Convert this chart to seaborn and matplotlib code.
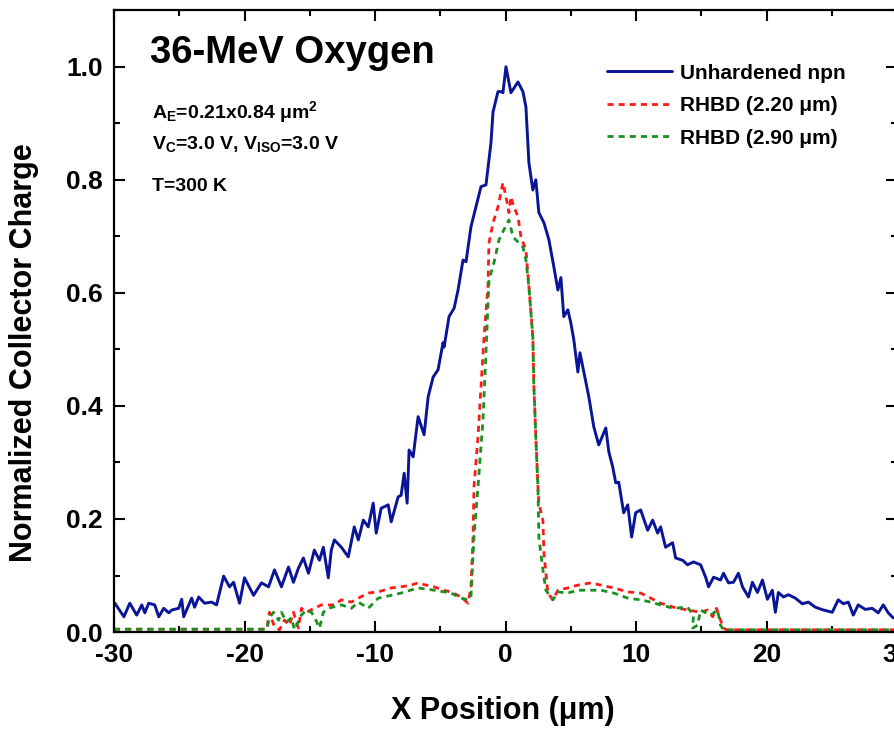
import numpy as np
import pandas as pd
import seaborn as sns
import matplotlib

matplotlib.use('Agg')
import matplotlib.pyplot as plt
from matplotlib.ticker import MultipleLocator, FormatStrFormatter

# X position (um) vs normalized collector charge
npn_x = [-29.93, -29.24, -28.79, -28.26, -27.87, -27.64, -27.34, -26.88, -26.57, -26.19,
         -25.80, -25.57, -25.04, -24.81, -24.66, -24.05, -23.82, -23.51, -23.06, -22.52,
         -22.14, -21.99, -21.60, -21.15, -20.84, -20.38, -20.00, -19.31, -18.70, -18.16,
         -17.70, -17.17, -16.63, -16.25, -15.87, -15.49, -15.10, -14.65, -14.26, -13.96,
         -13.58, -13.35, -13.12, -12.58, -12.05, -11.59, -11.28, -10.90, -10.52, -10.14,
         -9.91, -9.53, -8.99, -8.76, -8.23, -8.00, -7.77, -7.54, -7.39, -7.08,
         -6.70, -6.24, -5.93, -5.55, -5.17, -4.79, -4.71, -4.33, -3.94, -3.64,
         -3.26, -3.03, -2.65, -2.42, -1.88, -1.50, -1.12, -0.96, -0.58, -0.35,
         -0.20, 0.03, 0.26, 0.41, 0.95, 1.33, 1.56, 1.79, 2.09, 2.32,
         2.55, 2.94, 3.32, 3.70, 4.01, 4.24, 4.46, 4.77, 5.00, 5.23,
         5.54, 5.70, 6.00, 6.38, 6.76, 7.14, 7.68, 7.91, 8.21, 8.44,
         8.67, 9.05, 9.36, 9.66, 9.97, 10.35, 10.89, 11.27, 11.65, 11.88,
         12.26, 12.80, 13.03, 13.56, 13.94, 14.40, 14.94, 15.33, 15.55, 15.94,
         16.47, 16.70, 17.08, 17.46, 17.84, 18.15, 18.61, 18.91, 19.30, 19.68,
         20.06, 20.44, 20.67, 20.90, 21.29, 21.67, 22.20, 22.74, 23.20, 23.73,
         24.35, 25.03, 25.49, 25.88, 26.26, 26.64, 27.02, 27.56, 28.09, 28.55,
         28.94, 29.32, 29.70]
npn_y = [0.051, 0.027, 0.051, 0.030, 0.048, 0.034, 0.051, 0.048, 0.027, 0.042,
         0.034, 0.039, 0.042, 0.058, 0.027, 0.060, 0.044, 0.062, 0.051, 0.053,
         0.048, 0.062, 0.099, 0.080, 0.088, 0.051, 0.096, 0.065, 0.087, 0.080,
         0.110, 0.080, 0.115, 0.088, 0.113, 0.131, 0.104, 0.145, 0.127, 0.150,
         0.096, 0.145, 0.163, 0.150, 0.133, 0.186, 0.163, 0.198, 0.186, 0.228,
         0.175, 0.219, 0.225, 0.195, 0.239, 0.242, 0.281, 0.228, 0.322, 0.310,
         0.381, 0.349, 0.416, 0.451, 0.464, 0.512, 0.504, 0.558, 0.573, 0.605,
         0.658, 0.655, 0.717, 0.738, 0.788, 0.791, 0.865, 0.920, 0.956, 0.956,
         0.954, 1.000, 0.972, 0.954, 0.973, 0.956, 0.929, 0.830, 0.782, 0.800,
         0.742, 0.724, 0.694, 0.646, 0.605, 0.627, 0.558, 0.570, 0.547, 0.517,
         0.460, 0.494, 0.460, 0.416, 0.363, 0.331, 0.361, 0.319, 0.292, 0.264,
         0.265, 0.211, 0.225, 0.168, 0.211, 0.216, 0.180, 0.198, 0.175, 0.186,
         0.150, 0.158, 0.131, 0.127, 0.119, 0.124, 0.119, 0.097, 0.080, 0.097,
         0.092, 0.104, 0.087, 0.088, 0.104, 0.080, 0.062, 0.088, 0.070, 0.092,
         0.058, 0.074, 0.035, 0.070, 0.062, 0.066, 0.060, 0.050, 0.053, 0.044,
         0.039, 0.035, 0.057, 0.050, 0.053, 0.030, 0.048, 0.040, 0.042, 0.034,
         0.048, 0.034, 0.025]

rhbd22_x = [-30.0, -18.30, -18.09, -17.70, -17.32, -16.94, -16.56, -16.25, -15.87, -15.64,
            -15.26, -14.65, -14.11, -13.12, -12.58, -11.81, -11.28, -10.52, -9.75, -8.76,
            -8.00, -7.23, -6.70, -6.09, -5.47, -4.79, -4.17, -3.41, -2.87, -2.65,
            -2.49, -2.42, -2.11, -1.88, -1.65, -1.35, -1.27, -0.96, -0.58, -0.20,
            0.03, 0.26, 0.41, 0.64, 0.95, 1.18, 1.56, 1.79, 2.09, 2.17,
            2.32, 2.48, 2.55, 2.86, 2.94, 3.24, 3.62, 4.01, 4.77, 5.54,
            6.54, 7.30, 8.29, 9.36, 10.35, 11.12, 11.88, 12.87, 13.94, 14.94,
            15.47, 15.86, 16.16, 16.47, 16.70, 16.93, 30.0]
rhbd22_y = [0.005, 0.005, 0.035, 0.009, 0.004, 0.021, 0.012, 0.035, 0.007, 0.042,
            0.035, 0.042, 0.048, 0.048, 0.057, 0.053, 0.060, 0.069, 0.071, 0.078,
            0.080, 0.083, 0.087, 0.083, 0.080, 0.074, 0.071, 0.062, 0.051, 0.080,
            0.168, 0.257, 0.345, 0.434, 0.522, 0.611, 0.688, 0.724, 0.752, 0.795,
            0.770, 0.742, 0.770, 0.752, 0.735, 0.699, 0.676, 0.611, 0.522, 0.434,
            0.345, 0.257, 0.228, 0.198, 0.140, 0.069, 0.057, 0.074, 0.078, 0.083,
            0.087, 0.083, 0.078, 0.071, 0.069, 0.060, 0.051, 0.044, 0.039, 0.035,
            0.039, 0.027, 0.042, 0.021, 0.007, 0.004, 0.004]

rhbd29_x = [-30.0, -18.30, -18.09, -17.78, -17.39, -17.17, -16.79, -16.40, -16.17, -15.64,
            -15.26, -14.88, -14.65, -14.26, -13.96, -13.58, -12.58, -11.81, -11.28, -10.52,
            -9.75, -8.76, -8.00, -6.70, -5.47, -4.17, -3.41, -2.87, -2.65, -2.42,
            -2.11, -1.73, -1.50, -1.27, -0.89, -0.50, -0.12, 0.26, 0.57, 0.95,
            1.33, 1.56, 1.79, 2.09, 2.17, 2.32, 2.48, 2.55, 2.86, 3.09,
            3.62, 4.01, 4.77, 5.54, 6.54, 7.30, 8.29, 9.36, 10.35, 11.12,
            11.88, 12.87, 13.94, 14.40, 14.33, 14.71, 14.94, 15.25, 15.71, 16.24,
            16.47, 16.70, 30.0]
rhbd29_y = [0.005, 0.005, 0.025, 0.035, 0.021, 0.035, 0.018, 0.025, 0.004, 0.030,
            0.039, 0.035, 0.027, 0.007, 0.035, 0.042, 0.048, 0.042, 0.053, 0.042,
            0.060, 0.065, 0.069, 0.078, 0.074, 0.069, 0.060, 0.057, 0.062, 0.168,
            0.257, 0.375, 0.494, 0.623, 0.653, 0.694, 0.712, 0.729, 0.699, 0.690,
            0.681, 0.658, 0.611, 0.522, 0.434, 0.345, 0.257, 0.168, 0.110, 0.074,
            0.057, 0.071, 0.069, 0.074, 0.074, 0.074, 0.069, 0.060, 0.057, 0.053,
            0.048, 0.042, 0.044, 0.030, 0.007, 0.012, 0.039, 0.035, 0.030, 0.039,
            0.012, 0.004, 0.004]

sns.set_theme(style='ticks')
plt.rcParams['font.family'] = ['Liberation Sans', 'DejaVu Sans']
plt.rcParams['font.weight'] = 'bold'
plt.rcParams['text.color'] = 'black'
plt.rcParams['axes.labelcolor'] = 'black'
plt.rcParams['axes.unicode_minus'] = False
plt.rcParams['mathtext.fontset'] = 'custom'
plt.rcParams['mathtext.rm'] = 'Liberation Sans:bold'
plt.rcParams['mathtext.it'] = 'Liberation Sans:bold'
plt.rcParams['mathtext.bf'] = 'Liberation Sans:bold'
plt.rcParams['mathtext.default'] = 'rm'

fig = plt.figure(figsize=(8.94, 7.29), dpi=100)
ax = fig.add_axes([0.1275, 0.133, 0.876, 0.853])

dash = (0, (2.2, 1.8))
sns.lineplot(x=npn_x, y=npn_y, ax=ax, color='#0a1496', lw=2.1, sort=False,
             estimator=None, label='Unhardened npn')
sns.lineplot(x=rhbd22_x, y=rhbd22_y, ax=ax, color='#ff1a1a', lw=2.0, sort=False,
             estimator=None, linestyle=dash, label='RHBD (2.20 \u03bcm)')
sns.lineplot(x=rhbd29_x, y=rhbd29_y, ax=ax, color='#1a9020', lw=2.0, sort=False,
             estimator=None, linestyle=dash, label='RHBD (2.90 \u03bcm)')

ax.set_xlim(-30, 30)
ax.set_ylim(0, 1.1)
ax.xaxis.set_major_locator(MultipleLocator(10))
ax.xaxis.set_minor_locator(MultipleLocator(5))
ax.yaxis.set_major_locator(MultipleLocator(0.2))
ax.yaxis.set_minor_locator(MultipleLocator(0.1))
ax.yaxis.set_major_formatter(FormatStrFormatter('%.1f'))
ax.tick_params(which='both', direction='in', top=True, right=True, width=1.5,
               labelsize=19, colors='black')
ax.tick_params(which='major', length=8, pad=8)
ax.tick_params(which='minor', length=4)
for lab in ax.get_xticklabels() + ax.get_yticklabels():
    lab.set_fontweight('bold')
for sp in ax.spines.values():
    sp.set_linewidth(1.6)
    sp.set_color('black')

ax.set_xlabel('X Position (\u03bcm)', fontsize=22, fontweight='bold')
ax.set_ylabel('Normalized Collector Charge', fontsize=22, fontweight='bold')
ax.xaxis.set_label_coords(0.497, -0.103)
ax.yaxis.set_label_coords(-0.096, 0.45)

ax.text(0.046, 0.915, '36-MeV Oxygen', transform=ax.transAxes, fontsize=27.5,
        fontweight='bold', va='baseline')
ax.text(0.049, 0.826, r'A$_{E}$=0.21x0.84 $\mu$m$^{2}$', transform=ax.transAxes,
        fontsize=14, fontweight='bold', va='baseline')
ax.text(0.049, 0.776, r'V$_{C}$=3.0 V, V$_{ISO}$=3.0 V', transform=ax.transAxes,
        fontsize=14, fontweight='bold', va='baseline')
ax.text(0.049, 0.71, 'T=300 K', transform=ax.transAxes,
        fontsize=14, fontweight='bold', va='baseline')

leg = ax.legend(loc='upper left', bbox_to_anchor=(0.63, 0.914), frameon=False,
                fontsize=15, handlelength=3.1, handletextpad=0.4,
                labelspacing=0.65, borderpad=0, borderaxespad=0)
for t in leg.get_texts():
    t.set_fontweight('bold')
    t.set_color('black')

fig.savefig('out.png', dpi=100)
